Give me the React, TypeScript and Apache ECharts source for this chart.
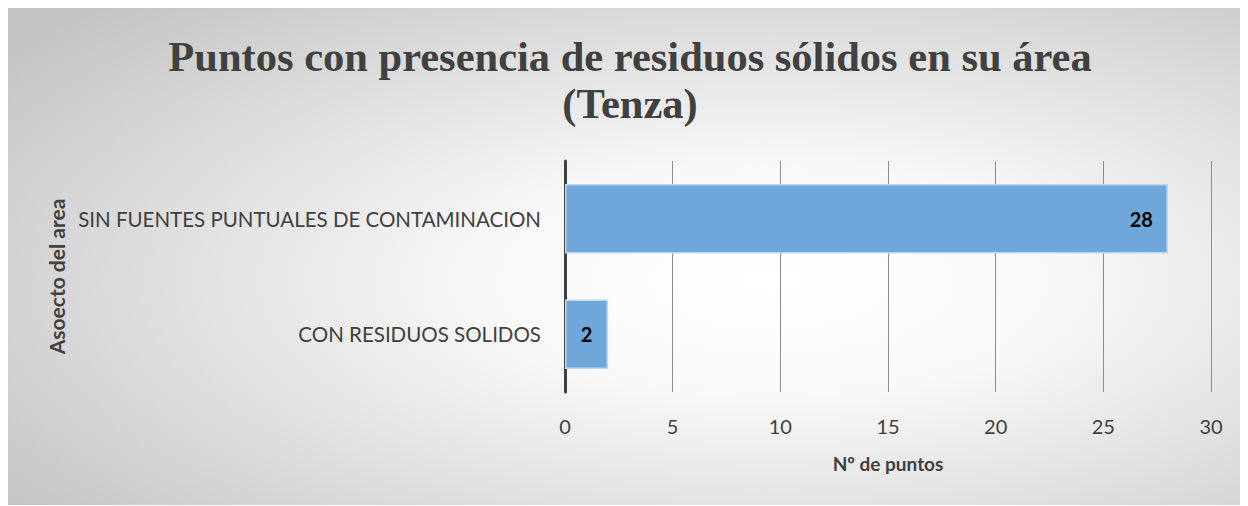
import React, { useEffect, useRef } from "react";
import * as echarts from "echarts";

const categories = ["CON RESIDUOS SOLIDOS", "SIN FUENTES PUNTUALES DE CONTAMINACION"];
const values = [2, 28];
const titleText = "Puntos con presencia de residuos sólidos en su área\n(Tenza)";
const xAxisName = "Nº de puntos";
const yAxisName = "Asoecto del area";

export default function App() {
  const ref = useRef<HTMLDivElement>(null);
  useEffect(() => {
    if (!ref.current) return;
    const chart = echarts.init(ref.current, null, { renderer: "svg" });
    chart.setOption({
      animation: false,
      backgroundColor: {
        type: "radial",
        x: 0.62,
        y: 0.55,
        r: 0.78,
        colorStops: [
          { offset: 0, color: "#ffffff" },
          { offset: 0.3, color: "#f8f8f8" },
          { offset: 1, color: "#c3c3c3" },
        ],
      },
      title: {
        text: titleText,
        left: 617,
        textAlign: "center",
        top: 20,
        textStyle: {
          fontFamily: "Liberation Serif",
          fontWeight: "bold",
          fontSize: 42.5,
          lineHeight: 47,
          color: "#404040",
        },
      },
      grid: { left: 557, right: 29, top: 153, bottom: 113, containLabel: false },
      xAxis: {
        type: "value",
        min: 0,
        max: 30,
        interval: 5,
        name: xAxisName,
        nameLocation: "middle",
        nameGap: 62,
        nameTextStyle: { fontFamily: "Lato", fontWeight: "bold", fontSize: 19, color: "#404040" },
        axisLine: { show: false },
        axisTick: { show: false },
        axisLabel: { fontFamily: "Lato", fontSize: 20, color: "#404040", margin: 24 },
        splitLine: { show: true, lineStyle: { color: "#8c8c8c", width: 1 } },
      },
      yAxis: {
        type: "category",
        data: categories,
        name: yAxisName,
        nameLocation: "middle",
        nameGap: 496,
        nameRotate: 90,
        nameTextStyle: { fontFamily: "Lato", fontWeight: "bold", fontSize: 21, color: "#404040" },
        axisLine: { show: true, lineStyle: { color: "#404040", width: 3 } },
        axisTick: { show: false },
        axisLabel: { fontFamily: "Lato", fontSize: 20.5, color: "#404040", margin: 24 },
      },
      series: [
        {
          type: "bar",
          data: values.map((v, i) => ({
            value: v,
            label: { position: i === 0 ? "inside" : "insideRight", distance: 15 },
          })),
          barWidth: "60%",
          itemStyle: { color: "#6fa7da", borderColor: "#bdd7ee", borderWidth: 1.5 },
          label: {
            show: true,
            fontFamily: "Lato",
            fontWeight: "bold",
            fontSize: 20,
            color: "#000000",
          },
        },
      ],
    });
    return () => chart.dispose();
  }, []);
  return <div ref={ref} style={{ width: 1232, height: 498, borderTop: "1px solid #c8c8c8", boxSizing: "border-box", marginTop: -1 }} />;
}
